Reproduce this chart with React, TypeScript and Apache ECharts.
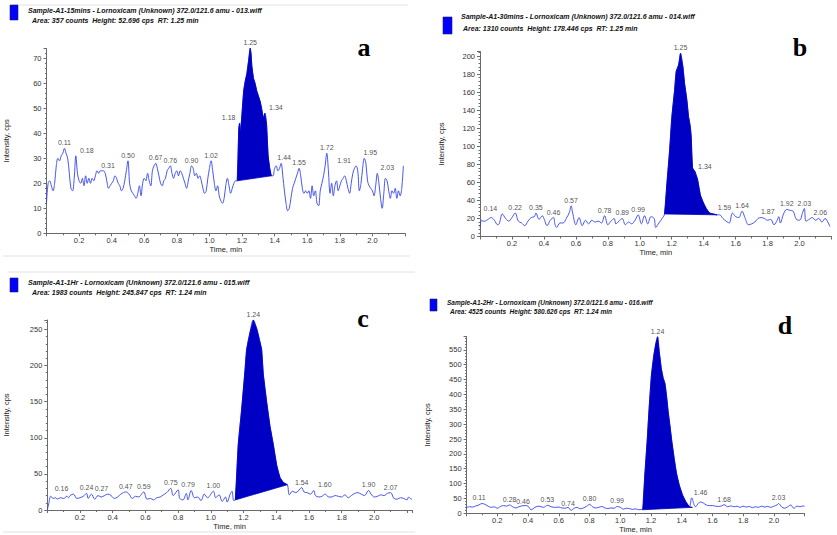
import React, { useEffect, useRef } from 'react';
import * as echarts from 'echarts';

type P = [number, number];
type L = [number, number, string];

const FONT = '"Liberation Sans", Arial, sans-serif';

// ---------- Panel a (15 mins) ----------
const traceA_pre: P[] = [
  [0.00,12],[0.01,20],[0.02,21],[0.03,19],[0.04,17],[0.05,20],[0.06,27],[0.07,30],[0.08,29],[0.09,31],[0.10,32],[0.11,34],[0.12,32],[0.13,30],[0.14,24],[0.15,18],[0.16,17],[0.17,22],[0.18,31],[0.19,24],[0.20,21],[0.21,20],[0.22,22],[0.23,19],[0.24,23],[0.25,20],[0.26,22],[0.27,20],[0.28,22],[0.29,21],[0.30,23],[0.31,25],[0.32,24],[0.33,25],[0.34,25],[0.35,25],[0.36,24],[0.37,21],[0.38,18],[0.39,19],[0.40,20],[0.41,21],[0.42,23],[0.43,22],[0.44,20],[0.45,19],[0.46,17],[0.47,18],[0.48,21],[0.49,25],[0.50,29],[0.51,20],[0.52,17],[0.53,16],[0.54,15],[0.55,14],[0.56,16],[0.57,19],[0.58,15],[0.59,20],[0.60,22],[0.61,21],[0.62,24],[0.63,21],[0.64,19],[0.65,25],[0.66,27],[0.67,28],[0.68,26],[0.69,23],[0.70,20],[0.71,19],[0.72,21],[0.73,22],[0.74,25],[0.75,26],[0.76,27],[0.77,24],[0.78,22],[0.79,24],[0.80,25],[0.81,23],[0.82,25],[0.83,24],[0.84,22],[0.85,20],[0.86,18],[0.87,21],[0.88,24],[0.89,27],[0.90,26],[0.91,23],[0.92,24],[0.93,22],[0.94,23],[0.95,21],[0.96,18],[0.97,16],[0.98,17],[0.99,22],[1.00,26],[1.01,29],[1.02,25],[1.03,20],[1.04,17],[1.05,19],[1.06,15],[1.07,13],[1.08,12],[1.09,14],[1.10,19],[1.11,22],[1.12,19],[1.13,16],[1.14,18],[1.15,20],[1.16,21],
];
const peakA: P[] = [
  [1.17,21],[1.175,30],[1.18,42],[1.185,44],[1.19,40],[1.20,48],[1.21,57],[1.22,61],[1.23,64],[1.24,69],[1.25,74],[1.255,72],[1.26,67],[1.27,62],[1.28,60],[1.29,57],[1.30,55],[1.31,53],[1.32,50],[1.33,46],[1.34,48],[1.35,44],[1.36,31],[1.37,26],[1.38,23],
];
const traceA_post: P[] = [
  [1.39,23],[1.40,26],[1.41,27],[1.42,25],[1.43,26],[1.44,28],[1.45,23],[1.46,17],[1.47,12],[1.48,9],[1.49,10],[1.50,14],[1.51,18],[1.52,20],[1.53,22],[1.54,24],[1.55,26],[1.56,23],[1.57,18],[1.58,16],[1.59,17],[1.60,16],[1.61,17],[1.62,14],[1.63,19],[1.64,15],[1.65,17],[1.66,12],[1.67,11],[1.68,17],[1.69,20],[1.70,23],[1.71,27],[1.72,32],[1.73,25],[1.74,16],[1.75,20],[1.76,15],[1.77,19],[1.78,21],[1.79,17],[1.80,19],[1.81,21],[1.82,22],[1.83,23],[1.84,21],[1.85,18],[1.86,16],[1.87,20],[1.88,24],[1.89,26],[1.90,27],[1.91,25],[1.92,17],[1.93,20],[1.94,26],[1.95,30],[1.96,28],[1.97,21],[1.98,19],[1.99,18],[2.00,17],[2.01,15],[2.02,19],[2.03,24],[2.04,20],[2.05,14],[2.06,10],[2.07,16],[2.08,22],[2.09,21],[2.10,17],[2.11,14],[2.12,17],[2.13,16],[2.14,18],[2.15,14],[2.16,17],[2.17,15],[2.18,18],[2.19,27],
];
const labelsA: L[] = [
  [0.11,34,'0.11'],[0.18,31,'0.18'],[0.31,25,'0.31'],[0.50,29,'0.50'],[0.67,28,'0.67'],[0.76,27,'0.76'],[0.89,27,'0.90'],[1.01,29,'1.02'],[1.185,44,'1.18'],[1.25,74,'1.25'],[1.34,48,'1.34'],[1.44,28,'1.44'],[1.55,26,'1.55'],[1.72,32,'1.72'],[1.90,27,'1.91'],[1.95,30,'1.95'],[2.03,24,'2.03'],
];
const shiftA = [0, 11, 11, 0, 0, 0, 0, 0, -11, 0, 11, 3, 0, 0, -12, 6, 10];

// ---------- Panel b (30 mins) ----------
const traceB_pre: P[] = [
  [0.00,10],[0.01,18],[0.02,17],[0.03,17],[0.05,19],[0.07,21],[0.09,18],[0.11,13],[0.12,14],[0.14,25],[0.16,20],[0.18,17],[0.20,21],[0.22,26],[0.24,17],[0.26,15],[0.28,12],[0.30,17],[0.32,21],[0.34,22],[0.35,26],[0.37,19],[0.39,23],[0.40,20],[0.42,12],[0.44,18],[0.46,21],[0.47,13],[0.48,10],[0.50,15],[0.52,15],[0.54,20],[0.56,27],[0.57,34],[0.58,26],[0.60,13],[0.62,21],[0.64,12],[0.66,18],[0.68,14],[0.70,18],[0.72,16],[0.74,17],[0.76,15],[0.78,23],[0.80,13],[0.82,17],[0.84,20],[0.85,14],[0.87,17],[0.89,20],[0.91,13],[0.93,16],[0.95,14],[0.97,18],[0.99,24],[1.01,14],[1.03,23],[1.05,14],[1.07,22],[1.09,20],[1.10,10],[1.12,15],[1.14,20],
];
const peakB: P[] = [
  [1.155,25],[1.170,59],[1.187,96],[1.201,133],[1.218,162],[1.228,183],[1.243,190],[1.255,203],[1.27,188],[1.28,170],[1.295,151],[1.305,133],[1.316,122],[1.322,110],[1.33,76],[1.345,72],[1.362,63],[1.379,46],[1.399,37],[1.416,31],[1.437,26],[1.46,25],[1.483,24],
];
const traceB_post: P[] = [
  [1.50,24],[1.52,20],[1.54,17],[1.56,15],[1.58,26],[1.60,22],[1.62,21],[1.64,28],[1.66,20],[1.68,13],[1.70,14],[1.72,16],[1.74,20],[1.76,21],[1.78,20],[1.80,18],[1.82,19],[1.84,13],[1.86,18],[1.87,22],[1.88,15],[1.90,25],[1.92,30],[1.94,29],[1.96,28],[1.98,19],[2.00,18],[2.02,27],[2.03,31],[2.04,17],[2.06,19],[2.08,21],[2.10,18],[2.12,20],[2.14,16],[2.16,20],[2.18,15],[2.19,11],
];
const labelsB: L[] = [
  [0.14,25,'0.14'],[0.22,26,'0.22'],[0.35,26,'0.35'],[0.46,21,'0.46'],[0.57,34,'0.57'],[0.78,23,'0.78'],[0.89,20,'0.89'],[0.99,24,'0.99'],[1.255,203,'1.25'],[1.345,72,'1.34'],[1.58,26,'1.59'],[1.64,28,'1.64'],[1.87,22,'1.87'],[1.92,30,'1.92'],[2.03,31,'2.03'],[2.08,21,'2.06'],
];
const shiftB = [-12, 0, 0, 0, 0, 0, 0, 0, 0, 10, -8, 0, -11, 0, 0, 8];

// ---------- Panel c (1 Hr) ----------
const traceC_pre: P[] = [
  [0.00,0],[0.01,10],[0.02,19],[0.03,17],[0.04,16],[0.05,17],[0.06,15],[0.08,17],[0.10,16],[0.12,19],[0.13,17],[0.14,20],[0.16,22],[0.18,16],[0.20,17],[0.22,19],[0.24,23],[0.25,16],[0.27,22],[0.29,15],[0.31,20],[0.33,18],[0.35,20],[0.37,22],[0.39,20],[0.41,16],[0.43,18],[0.45,22],[0.48,25],[0.50,22],[0.52,16],[0.54,19],[0.56,18],[0.57,20],[0.59,25],[0.61,15],[0.63,16],[0.65,14],[0.67,17],[0.69,18],[0.71,21],[0.73,24],[0.755,30],[0.77,20],[0.80,28],[0.81,16],[0.83,14],[0.85,23],[0.86,14],[0.88,27],[0.90,17],[0.92,18],[0.94,13],[0.96,22],[0.98,17],[1.016,26],[1.03,17],[1.05,21],[1.07,12],[1.09,18],[1.10,11],[1.12,23],[1.13,26],[1.14,13],
];
const peakC: P[] = [
  [1.15,14],[1.168,91],[1.189,140],[1.209,193],[1.219,222],[1.24,246],[1.26,263],[1.281,251],[1.297,236],[1.311,222],[1.321,188],[1.342,149],[1.362,116],[1.382,91],[1.403,62],[1.423,45],[1.444,38],[1.468,35],
];
const traceC_post: P[] = [
  [1.48,21],[1.50,26],[1.52,24],[1.556,31],[1.57,25],[1.59,24],[1.61,22],[1.63,27],[1.64,20],[1.66,18],[1.68,19],[1.70,22],[1.72,18],[1.74,18],[1.76,20],[1.78,19],[1.80,18],[1.82,21],[1.84,17],[1.86,20],[1.88,23],[1.90,24],[1.92,22],[1.94,20],[1.965,27],[1.98,22],[2.00,18],[2.02,19],[2.04,21],[2.06,20],[2.08,23],[2.10,24],[2.12,16],[2.14,15],[2.16,17],[2.18,16],[2.20,14],[2.21,18],[2.22,16],[2.23,15],
];
const labelsC: L[] = [
  [0.16,22,'0.16'],[0.24,23,'0.24'],[0.27,22,'0.27'],[0.48,25,'0.47'],[0.59,25,'0.59'],[0.755,30,'0.75'],[0.80,28,'0.79'],[1.016,26,'1.00'],[1.26,263,'1.24'],[1.556,31,'1.54'],[1.63,27,'1.60'],[1.965,27,'1.90'],[2.10,24,'2.07'],
];
const shiftC = [-12, 0, 10, 0, 0, 0, 10, 0, 0, 0, 11, 0, 0];

// ---------- Panel d (2 Hr) ----------
const traceD_pre: P[] = [
  [0.00,20],[0.02,22],[0.04,21],[0.06,25],[0.08,28],[0.10,33],[0.12,30],[0.14,24],[0.16,20],[0.18,22],[0.20,17],[0.22,23],[0.24,26],[0.26,24],[0.28,28],[0.30,22],[0.32,18],[0.34,22],[0.36,25],[0.38,26],[0.40,24],[0.42,12],[0.445,20],[0.47,24],[0.50,20],[0.526,27],[0.55,22],[0.58,20],[0.60,21],[0.62,18],[0.64,17],[0.66,20],[0.68,10],[0.70,17],[0.72,20],[0.738,15],[0.76,18],[0.78,23],[0.80,30],[0.82,22],[0.84,18],[0.86,20],[0.88,23],[0.90,18],[0.92,16],[0.94,18],[0.96,17],[0.98,23],[1.00,20],[1.02,14],[1.04,17],[1.06,16],[1.08,13],[1.10,15],[1.12,12],[1.14,13],
];
const peakD: P[] = [
  [1.146,12],[1.160,129],[1.175,241],[1.188,353],[1.203,465],[1.219,533],[1.232,572],[1.243,594],[1.254,544],[1.267,488],[1.280,454],[1.291,437],[1.302,392],[1.312,342],[1.323,297],[1.336,241],[1.351,185],[1.366,135],[1.384,95],[1.405,62],[1.427,39],[1.45,22],[1.47,20],
];
const traceD_post: P[] = [
  [1.48,30],[1.49,22],[1.50,28],[1.52,38],[1.54,35],[1.56,28],[1.58,26],[1.60,26],[1.62,24],[1.64,23],[1.66,25],[1.676,29],[1.70,22],[1.72,25],[1.74,22],[1.76,24],[1.78,20],[1.80,24],[1.82,21],[1.84,23],[1.86,19],[1.88,22],[1.90,20],[1.92,24],[1.94,21],[1.96,23],[1.98,20],[2.00,24],[2.02,28],[2.03,33],[2.05,22],[2.07,17],[2.09,22],[2.11,28],[2.13,17],[2.15,24],[2.17,22],[2.19,25],[2.20,23],
];
const bumpD: P[] = [[1.45,22],[1.465,52],[1.48,30]];
const labelsD: L[] = [
  [0.10,33,'0.11'],[0.28,28,'0.28'],[0.445,20,'0.46'],[0.526,27,'0.53'],[0.738,15,'0.74'],[0.80,30,'0.80'],[0.98,23,'0.99'],[1.243,594,'1.24'],[1.465,52,'1.46'],[1.676,29,'1.68'],[2.03,33,'2.03'],
];
const shiftD = [-3, 0, -12, 0, -12, 0, 0, 0, 9, 0, 0];

// ---------- texts ----------
const titles1 = [
  'Sample-A1-15mins - Lornoxicam (Unknown) 372.0/121.6 amu - 013.wiff',
  'Sample-A1-30mins - Lornoxicam (Unknown) 372.0/121.6 amu - 014.wiff',
  'Sample-A1-1Hr - Lornoxicam (Unknown) 372.0/121.6 amu - 015.wiff',
  'Sample-A1-2Hr - Lornoxicam (Unknown) 372.0/121.6 amu - 016.wiff',
];
const titles2 = [
  'Area: 357 counts  Height: 52.696 cps  RT: 1.25 min',
  'Area: 1310 counts  Height: 178.446 cps  RT: 1.25 min',
  'Area: 1983 counts  Height: 245.847 cps  RT: 1.24 min',
  'Area: 4525 counts  Height: 580.626 cps  RT: 1.24 min',
];
const panelLetters = ['a', 'b', 'c', 'd'];
const yMaxes = [74, 205, 263, 595];
const yIntervals = [10, 20, 50, 50];
const xMaxes = [2.2, 2.2, 2.23, 2.2];

// ---------- layout (pixels) ----------
const grids = [
  { left: 46.5, top: 48.3, width: 358.5, height: 185 },
  { left: 480, top: 51.5, width: 351.5, height: 185 },
  { left: 47.3, top: 320, width: 364.6, height: 190 },
  { left: 466.6, top: 336.5, width: 338, height: 176.8 },
];
const headPos = [
  { sq: [10, 5, 8, 15], t1: [28, 10], t2: [32, 20], fs: 7, letter: [364, 47] },
  { sq: [443, 17, 9, 17], t1: [461, 16], t2: [463, 28], fs: 7, letter: [800, 47] },
  { sq: [10, 278, 8, 14], t1: [28, 282], t2: [32, 292], fs: 7, letter: [363, 318] },
  { sq: [430, 299, 7, 12], t1: [447, 302], t2: [450, 311], fs: 6.5, letter: [785, 325] },
];
const xNameGaps = [11, 12, 12, 11];
const yNameGaps = [36, 35, 37, 35];

const LINE_COLOR = '#3344ee';
const FILL_COLOR = '#0000c4';
const AXIS_COLOR = '#6a6a6a';
const LABEL_COLOR = '#1a1a1a';

function buildOption() {
  const traces: P[][] = [
    [...traceA_pre, ...peakA, ...traceA_post],
    [...traceB_pre, ...peakB, ...traceB_post],
    [...traceC_pre, ...peakC, ...traceC_post],
    [...traceD_pre, ...peakD.slice(0, -2), ...bumpD, ...traceD_post.slice(1)],
  ];
  const peaks = [peakA, peakB, peakC, peakD];
  const labels = [labelsA, labelsB, labelsC, labelsD];
  const shifts = [shiftA, shiftB, shiftC, shiftD];

  const xAxis = grids.map((_, i) => ({
    type: 'value',
    gridIndex: i,
    min: 0,
    max: xMaxes[i],
    interval: 0.2,
    name: 'Time, min',
    nameLocation: 'middle',
    nameGap: xNameGaps[i],
    nameTextStyle: { fontSize: 7.5, color: '#222', fontFamily: FONT },
    axisLine: { show: true, onZero: false, lineStyle: { color: AXIS_COLOR, width: 1 } },
    axisTick: { show: true, length: 3, lineStyle: { color: AXIS_COLOR } },
    minorTick: { show: true, splitNumber: 2, length: 2, lineStyle: { color: AXIS_COLOR } },
    axisLabel: {
      fontSize: 7.5, color: '#333', fontFamily: FONT, margin: 3,
      formatter: (v: number) => (v < 0.1 || v > 2.15 ? '' : v.toFixed(1)),
    },
    splitLine: { show: false },
    minorSplitLine: { show: false },
  }));

  const yAxis = grids.map((_, i) => ({
    type: 'value',
    gridIndex: i,
    min: 0,
    max: yMaxes[i],
    interval: yIntervals[i],
    name: 'Intensity, cps',
    nameLocation: 'middle',
    nameGap: yNameGaps[i],
    nameTextStyle: { fontSize: 7.5, color: '#222', fontFamily: FONT },
    axisLine: { show: true, onZero: false, lineStyle: { color: AXIS_COLOR, width: 1 } },
    axisTick: { show: true, length: 3, lineStyle: { color: AXIS_COLOR } },
    minorTick: { show: true, splitNumber: 5, length: 1.5, lineStyle: { color: AXIS_COLOR } },
    axisLabel: {
      fontSize: 7.5, color: '#333', fontFamily: FONT, margin: 5,
      formatter: (v: number) => (v % yIntervals[i] === 0 ? String(v) : ''),
    },
    splitLine: { show: false },
  }));

  const series: any[] = [];
  grids.forEach((_, i) => {
    series.push({
      type: 'line',
      xAxisIndex: i,
      yAxisIndex: i,
      data: traces[i],
      symbol: 'none',
      smooth: 0.35,
      lineStyle: { color: LINE_COLOR, width: 0.9 },
      z: 2,
      silent: true,
    });
    const pk = peaks[i];
    series.push({
      type: 'custom',
      xAxisIndex: i,
      yAxisIndex: i,
      data: [pk[0]],
      z: 3,
      silent: true,
      renderItem: (_p: any, api: any) => ({
        type: 'polygon',
        shape: { points: pk.map((pt) => api.coord(pt)) },
        style: { fill: FILL_COLOR, stroke: FILL_COLOR, lineWidth: 0.8 },
      }),
    });
    series.push({
      type: 'scatter',
      xAxisIndex: i,
      yAxisIndex: i,
      symbolSize: 0,
      z: 4,
      silent: true,
      itemStyle: { color: LABEL_COLOR },
      data: labels[i].map((l, k) => ({
        value: [l[0], l[1]],
        label: { formatter: l[2], offset: [shifts[i][k], 0], color: LABEL_COLOR },
      })),
      label: {
        show: true,
        position: 'top',
        distance: 2,
        fontSize: 7,
        color: LABEL_COLOR,
        fontFamily: FONT,
      },
    });
  });

  const graphic: any[] = [];
  const frames: [number, number, number, number][] = [
    [13, 5, 408, 5], [3, 256, 410, 256], [8, 272, 415, 272], [3, 532, 415, 532],
  ];
  frames.forEach((f) =>
    graphic.push({ type: 'line', shape: { x1: f[0], y1: f[1], x2: f[2], y2: f[3] }, style: { stroke: '#e2e2e2', lineWidth: 1 }, silent: true })
  );
  headPos.forEach((h, i) => {
    graphic.push({
      type: 'rect',
      shape: { x: h.sq[0], y: h.sq[1], width: h.sq[2], height: h.sq[3] },
      style: { fill: '#0000ff', stroke: '#202060', lineWidth: 0.6 },
      silent: true,
    });
    graphic.push({
      type: 'text', x: h.t1[0], y: h.t1[1], silent: true,
      style: { text: titles1[i], font: `italic bold ${h.fs}px ${FONT}`, fill: '#111', verticalAlign: 'middle', align: 'left' },
    });
    graphic.push({
      type: 'text', x: h.t2[0], y: h.t2[1], silent: true,
      style: { text: titles2[i], font: `italic bold ${h.fs}px ${FONT}`, fill: '#111', verticalAlign: 'middle', align: 'left' },
    });
    graphic.push({
      type: 'text', x: h.letter[0], y: h.letter[1], silent: true,
      style: { text: panelLetters[i], font: 'bold 26px "Liberation Serif", "Times New Roman", serif', fill: '#000', verticalAlign: 'middle', align: 'center' },
    });
  });

  return {
    animation: false,
    backgroundColor: '#ffffff',
    grid: grids.map((g) => ({ ...g, containLabel: false })),
    xAxis,
    yAxis,
    series,
    graphic,
  };
}

export default function App() {
  const ref = useRef<HTMLDivElement>(null);
  useEffect(() => {
    if (!ref.current) return;
    const chart = echarts.init(ref.current, null, { renderer: 'svg' });
    chart.setOption(buildOption() as any);
    return () => chart.dispose();
  }, []);
  return (
    <div
      ref={ref}
      style={{ position: 'absolute', left: 0, top: 0, width: 837, height: 535, background: '#fff' }}
    />
  );
}
